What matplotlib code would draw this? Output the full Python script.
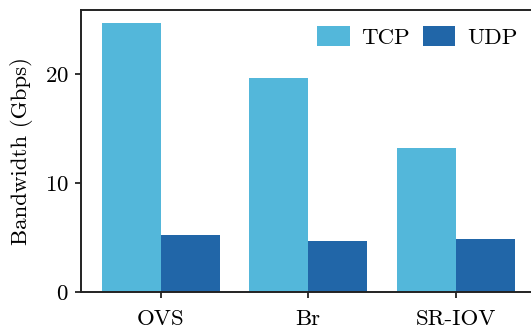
import matplotlib
matplotlib.use("Agg")
import matplotlib.pyplot as plt
import numpy as np

# Bandwidth per virtual switching setup
setups = ["OVS", "Br", "SR-IOV"]
tcp_gbps = [24.7, 19.65, 13.2]
udp_gbps = [5.25, 4.65, 4.9]

plt.rcParams["font.family"] = "serif"
plt.rcParams["font.serif"] = ["cmr10"]
plt.rcParams["axes.formatter.use_mathtext"] = True
plt.rcParams["mathtext.fontset"] = "cm"

fig = plt.figure(figsize=(5.31, 3.32), dpi=100)
ax = fig.add_axes([0.1525, 0.1205, 0.8475, 0.8495])

x = np.arange(len(setups))
width = 0.4
ax.bar(x - width / 2, tcp_gbps, width, color="#53b7da", label="TCP")
ax.bar(x + width / 2, udp_gbps, width, color="#2166a8", label="UDP")

ax.set_xlim(-0.54, 2.51)
ax.set_ylim(0, 25.9)
ax.set_yticks([0, 10, 20])
ax.set_xticks(x)
ax.set_xticklabels(setups)
ax.set_ylabel("Bandwidth (Gbps)", fontsize=16.5, labelpad=8)
ax.tick_params(labelsize=16.5, length=4, width=1.3, color="#222222")
ax.tick_params(axis="y", pad=5)
ax.tick_params(axis="x", pad=8.5)

for side in ["left", "bottom", "top"]:
    ax.spines[side].set_linewidth(1.4)
    ax.spines[side].set_color("#222222")
ax.spines["right"].set_visible(False)

ax.legend(loc="upper right", ncol=2, frameon=False, fontsize=16.5,
          handlelength=1.4, handleheight=0.95, columnspacing=0.6,
          handletextpad=0.5, borderaxespad=0, bbox_to_anchor=(0.99, 0.975))

fig.savefig("out.png", dpi=100)
